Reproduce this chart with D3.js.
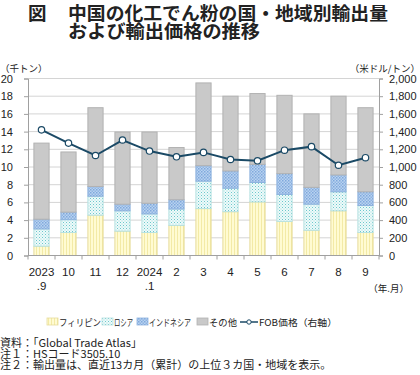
<!DOCTYPE html>
<html>
<head>
<meta charset="utf-8">
<script src="https://cdn.jsdelivr.net/npm/d3@7"></script>
<style>
  body { margin: 0; background: #fff; }
  svg text { font-family: "Noto Sans CJK JP", "Noto Sans", sans-serif; fill: #222; }
</style>
</head>
<body>
<div id="chart"></div>
<script>
// data
var months = ["2023\n.9", "10", "11", "12", "2024\n.1", "2", "3", "4", "5", "6", "7", "8", "9"];
var philippines = [1.05, 2.6, 4.55, 2.75, 2.6, 3.4, 5.3, 4.95, 6.05, 3.85, 2.85, 5.05, 2.6];
var russia      = [1.95, 1.45, 2.15, 2.3, 2.1, 1.85, 3.1, 2.65, 2.2, 3.05, 2.95, 2.15, 3.05];
var indonesia   = [1.1, 0.85, 1.1, 0.75, 1.2, 1.05, 1.75, 1.95, 2.05, 2.35, 1.9, 1.9, 1.55];
var others      = [8.6, 6.8, 8.9, 8.15, 8.05, 5.9, 9.35, 8.45, 8.0, 8.85, 8.3, 8.9, 9.5];
var fobPrice    = [1420, 1270, 1130, 1305, 1180, 1115, 1165, 1085, 1070, 1190, 1230, 1020, 1105];

var leftTicks = [0, 2, 4, 6, 8, 10, 12, 14, 16, 18, 20];
var rightTicks = [0, 200, 400, 600, 800, 1000, 1200, 1400, 1600, 1800, 2000];
var seriesNames = ["フィリピン", "ロシア", "インドネシア", "その他"];

var W = 420, H = 375;
var plot = { left: 28, right: 379, top: 78.5, bottom: 255.5 };

var svg = d3.select("#chart").append("svg")
    .attr("width", W)
    .attr("height", H);

// fill patterns
var defs = svg.append("defs");
var pYel = defs.append("pattern").attr("id", "pYel").attr("patternUnits", "userSpaceOnUse")
    .attr("width", 3).attr("height", 3);
pYel.append("rect").attr("width", 3).attr("height", 3).attr("fill", "#fffbd2");
pYel.append("rect").attr("x", 0).attr("width", 1).attr("height", 3).attr("fill", "#f3eaa6");

var pRus = defs.append("pattern").attr("id", "pRus").attr("patternUnits", "userSpaceOnUse")
    .attr("width", 3).attr("height", 3);
pRus.append("rect").attr("width", 3).attr("height", 3).attr("fill", "#eefafa");
pRus.append("rect").attr("x", 0).attr("y", 0).attr("width", 1).attr("height", 1).attr("fill", "#6cc8cc");
pRus.append("rect").attr("x", 1.5).attr("y", 1.5).attr("width", 1).attr("height", 1).attr("fill", "#9adbdc");

var pInd = defs.append("pattern").attr("id", "pInd").attr("patternUnits", "userSpaceOnUse")
    .attr("width", 3).attr("height", 3);
pInd.append("rect").attr("width", 3).attr("height", 3).attr("fill", "#b9d3f0");
pInd.append("rect").attr("x", 0).attr("y", 0).attr("width", 1.5).attr("height", 1.5).attr("fill", "#7fa8dc");
pInd.append("rect").attr("x", 1.5).attr("y", 1.5).attr("width", 1.5).attr("height", 1.5).attr("fill", "#8fb4e2");

var fills = ["url(#pYel)", "url(#pRus)", "url(#pInd)", "#c9c9c9"];
var strokes = ["#e6dc9c", "#b8e2e2", "#8eb2de", "#b2b2b2"];

// scales
var x = d3.scaleBand()
    .domain(months)
    .range([plot.left, plot.right])
    .paddingInner(0.4)
    .paddingOuter(0.2);

var y = d3.scaleLinear().domain([0, 20]).range([plot.bottom, plot.top]);
var y2 = d3.scaleLinear().domain([0, 2000]).range([plot.bottom, plot.top]);

// title
var title = svg.append("g").attr("font-weight", "bold").style("font-size", "18.5px");
title.append("text").attr("x", 28).attr("y", 20).text("図");
title.append("text").attr("x", 68).attr("y", 20)
    .attr("textLength", 320).attr("lengthAdjust", "spacingAndGlyphs")
    .text("中国の化工でん粉の国・地域別輸出量");
title.append("text").attr("x", 68).attr("y", 37.5)
    .attr("textLength", 192).attr("lengthAdjust", "spacingAndGlyphs")
    .text("および輸出価格の推移");

// axis units
svg.append("text").attr("x", 0).attr("y", 72).style("font-size", "9.5px").text("（千トン）");
svg.append("text").attr("x", 420).attr("y", 72).attr("text-anchor", "end")
    .style("font-size", "9.5px").text("（米ドル/トン）");

// gridlines
svg.append("g")
    .selectAll("line")
    .data(leftTicks.filter(function(d) { return d > 0; }))
    .enter()
    .append("line")
    .attr("x1", plot.left).attr("x2", plot.right)
    .attr("y1", function(d) { return y(d); })
    .attr("y2", function(d) { return y(d); })
    .attr("stroke", "#d4d4d4")
    .attr("stroke-width", 1);

// stacked bars
var rows = months.map(function(m, i) {
    return { month: m, a: philippines[i], b: russia[i], c: indonesia[i], d: others[i] };
});
var stack = d3.stack().keys(["a", "b", "c", "d"])(rows);

svg.append("g")
    .selectAll("g")
    .data(stack)
    .enter()
    .append("g")
    .attr("fill", function(d, i) { return fills[i]; })
    .attr("stroke", function(d, i) { return strokes[i]; })
    .selectAll("rect")
    .data(function(d) { return d; })
    .enter()
    .append("rect")
    .attr("x", function(d) { return x(d.data.month) + 0.5; })
    .attr("width", x.bandwidth() - 1)
    .attr("y", function(d) { return y(d[1]); })
    .attr("height", function(d) { return y(d[0]) - y(d[1]); })
    .attr("stroke-width", 1);

// left axis
var leftAxis = svg.append("g")
    .attr("transform", "translate(" + plot.left + ",0)")
    .call(d3.axisLeft(y).tickValues(leftTicks).tickSize(4).tickPadding(11).tickFormat(d3.format("d")));
leftAxis.select(".domain").attr("stroke", "#a0a0a0");
leftAxis.selectAll(".tick line").attr("stroke", "#a0a0a0");
leftAxis.selectAll("text").style("font-size", "11px").attr("fill", "#222")
    .style("font-family", "Arial, 'Liberation Sans', sans-serif");

// right axis
var rightAxis = svg.append("g")
    .attr("transform", "translate(" + plot.right + ",0)")
    .call(d3.axisRight(y2).tickValues(rightTicks).tickSize(4).tickPadding(6).tickFormat(d3.format(",")));
rightAxis.select(".domain").attr("stroke", "#a0a0a0");
rightAxis.selectAll(".tick line").attr("stroke", "#a0a0a0");
rightAxis.selectAll("text").style("font-size", "11px").attr("fill", "#222")
    .style("font-family", "Arial, 'Liberation Sans', sans-serif");

// bottom axis, ticks between the bars
var bottom = svg.append("g");
bottom.append("line")
    .attr("x1", plot.left).attr("x2", plot.right)
    .attr("y1", plot.bottom).attr("y2", plot.bottom)
    .attr("stroke", "#a0a0a0");
bottom.selectAll(".tk")
    .data(months.concat([null]))
    .enter()
    .append("line")
    .attr("x1", function(d, i) { return x(months[0]) - x.step() * x.paddingOuter() + i * x.step(); })
    .attr("x2", function(d, i) { return x(months[0]) - x.step() * x.paddingOuter() + i * x.step(); })
    .attr("y1", plot.bottom).attr("y2", plot.bottom + 4)
    .attr("stroke", "#a0a0a0");
var xl = bottom.selectAll(".lbl")
    .data(months)
    .enter()
    .append("text")
    .attr("text-anchor", "middle")
    .style("font-size", "11.5px")
    .style("font-family", "Arial, 'Liberation Sans', sans-serif")
    .attr("transform", function(d) { return "translate(" + (x(d) + x.bandwidth() / 2) + ",276)"; });
xl.selectAll("tspan")
    .data(function(d) { return d.split("\n"); })
    .enter()
    .append("tspan")
    .attr("x", 0)
    .attr("dy", function(d, i) { return i === 0 ? 0 : 14; })
    .text(function(d) { return d; });

svg.append("text").attr("x", 409).attr("y", 292).attr("text-anchor", "end")
    .style("font-size", "9.5px").text("（年.月）");

// FOB price line
var line = d3.line()
    .x(function(d, i) { return x(months[i]) + x.bandwidth() / 2; })
    .y(function(d) { return y2(d); });
svg.append("path")
    .datum(fobPrice)
    .attr("fill", "none")
    .attr("stroke", "#1b4a66")
    .attr("stroke-width", 2)
    .attr("d", line);
svg.append("g")
    .selectAll("circle")
    .data(fobPrice)
    .enter()
    .append("circle")
    .attr("cx", function(d, i) { return x(months[i]) + x.bandwidth() / 2; })
    .attr("cy", function(d) { return y2(d); })
    .attr("r", 3.2)
    .attr("fill", "#fff")
    .attr("stroke", "#1b4a66")
    .attr("stroke-width", 1.2);

// legend
var legend = svg.append("g").style("font-size", "9.5px");
var legX = [47, 102, 137, 197];
var legTextW = [42, 19, 42, 28];
seriesNames.forEach(function(name, i) {
    legend.append("rect")
        .attr("x", legX[i]).attr("y", 318).attr("width", 11).attr("height", 7)
        .attr("fill", fills[i]).attr("stroke", strokes[i]).attr("stroke-width", 0.8);
    legend.append("text")
        .attr("x", legX[i] + 12).attr("y", 326)
        .attr("textLength", legTextW[i]).attr("lengthAdjust", "spacingAndGlyphs")
        .text(name);
});
legend.append("line").attr("x1", 240).attr("x2", 258).attr("y1", 322).attr("y2", 322)
    .attr("stroke", "#1b4a66").attr("stroke-width", 1.5);
legend.append("circle").attr("cx", 249).attr("cy", 322).attr("r", 2.2)
    .attr("fill", "#fff").attr("stroke", "#1b4a66").attr("stroke-width", 1);
legend.append("text").attr("x", 259).attr("y", 326)
    .attr("textLength", 78).attr("lengthAdjust", "spacingAndGlyphs")
    .text("FOB価格（右軸）");

// notes
var notes = ["資料：「Global Trade Atlas」", "注１：HSコード3505.10", "注２：輸出量は、直近13カ月（累計）の上位３カ国・地域を表示。"];
svg.append("g")
    .style("font-size", "11px")
    .selectAll("text")
    .data(notes)
    .enter()
    .append("text")
    .attr("x", 0)
    .attr("y", function(d, i) { return 347 + i * 11; })
    .text(function(d) { return d; });
</script>
</body>
</html>
